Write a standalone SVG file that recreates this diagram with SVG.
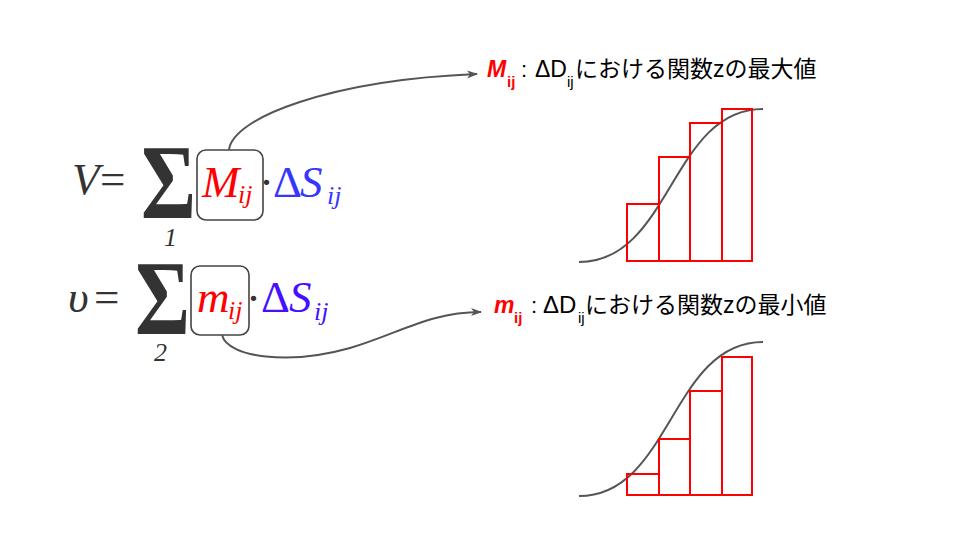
<svg xmlns="http://www.w3.org/2000/svg" width="960" height="540" viewBox="0 0 960 540">
<defs>
<marker id="arr" markerWidth="12" markerHeight="10" refX="10" refY="4" orient="auto" markerUnits="userSpaceOnUse">
<path d="M0,0 L11,4 L0,8 L3,4 z" fill="#555"/>
</marker>
<style>
.f{font-family:"Liberation Serif","Times New Roman",serif;}
.it{font-style:italic;}
.big{font-size:45px;}
.sub{font-size:26px;}
.sig{font-size:106px;font-weight:bold;}
.blk{fill:#333;}
.red{fill:#ff0000;}
.blu{fill:#3636ff;}
.blu2{fill:#4610ff;}
.box{fill:none;stroke:#444;stroke-width:1.6;}
.lab{font-family:"Liberation Sans",Arial,"Noto Sans CJK JP",sans-serif;fill:#000;}
.rl{fill:#ff0000;font-weight:bold;}
.bar{fill:none;stroke:#ff0000;stroke-width:2;}
.crv{fill:none;stroke:#555;stroke-width:2;}
.con{fill:none;stroke:#555;stroke-width:2;}
</style>
</defs>
<rect width="960" height="540" fill="#fff"/>

<g id="formula-upper">
<text class="f it big blk" x="72" y="194">V</text>
<text class="f big blk" x="100" y="194">=</text>
<text class="f sig blk" x="141" y="218" textLength="55" lengthAdjust="spacingAndGlyphs">Σ</text>
<text class="f it sub blk" x="164" y="246">1</text>
<rect class="box" x="197" y="150" width="66" height="70" rx="9"/>
<text class="f it big red" x="202" y="197">M</text>
<text class="f it sub red" x="238" y="203">ij</text>
<text class="f big blk" x="259" y="197">·</text>
<text class="f big blu" x="273" y="197">Δ</text>
<text class="f it big blu" x="300" y="197">S</text>
<text class="f it sub blu" x="327" y="204">ij</text>
</g>

<g id="formula-lower">
<text class="f it big blk" x="68" y="312">υ</text>
<text class="f big blk" x="94" y="312">=</text>
<text class="f sig blk" x="135" y="334" textLength="55" lengthAdjust="spacingAndGlyphs">Σ</text>
<text class="f it sub blk" x="154" y="361">2</text>
<rect class="box" x="191" y="266" width="58" height="69" rx="9"/>
<text class="f it big red" x="197" y="312">m</text>
<text class="f it sub red" x="228" y="319">ij</text>
<text class="f big blk" x="246" y="313">·</text>
<text class="f big blu2" x="261" y="312">Δ</text>
<text class="f it big blu2" x="289" y="312">S</text>
<text class="f it sub blu2" x="314" y="320">ij</text>
</g>

<g id="label-max">
<text class="lab rl" x="487" y="77" font-size="23" font-style="italic" style="fill:#ff0000">M</text>
<text class="lab rl" x="507" y="87" font-size="15" style="fill:#ff0000">ij</text>
<text class="lab" x="521" y="77" font-size="22">:</text>
<text class="lab" x="535" y="77" font-size="23">ΔD</text>
<text class="lab" x="567" y="87" font-size="15">ij</text>
<text class="lab" x="575" y="77" font-size="23">における関数zの最大値</text>
</g>

<g id="label-min">
<text class="lab rl" x="494" y="313" font-size="23" font-style="italic" style="fill:#ff0000">m</text>
<text class="lab rl" x="514" y="323" font-size="15" style="fill:#ff0000">ij</text>
<text class="lab" x="531" y="313" font-size="22">:</text>
<text class="lab" x="543" y="313" font-size="24">ΔD</text>
<text class="lab" x="578" y="323" font-size="15">ij</text>
<text class="lab" x="585" y="313" font-size="23">における関数zの最小値</text>
</g>

<g id="chart-upper">
<path class="crv" d="M579,262 C671,262 671,109 763,109"/>
<rect class="bar" x="627" y="204" width="32" height="57"/>
<rect class="bar" x="659" y="157" width="31" height="104"/>
<rect class="bar" x="690" y="123" width="32" height="138"/>
<rect class="bar" x="722" y="109" width="30" height="152"/>
</g>

<g id="chart-lower">
<path class="crv" d="M579,496 C671,496 671,342 763,342"/>
<rect class="bar" x="627" y="474" width="32" height="21"/>
<rect class="bar" x="659" y="439" width="31" height="56"/>
<rect class="bar" x="690" y="391" width="32" height="104"/>
<rect class="bar" x="722" y="357" width="30" height="138"/>
</g>

<g id="connectors">
<path class="con" d="M229,150 C232,118 330,80 477,74" marker-end="url(#arr)"/>
<path class="con" d="M222,335 C228,358 290,365 350,348 C400,333 430,312 481,312" marker-end="url(#arr)"/>
</g>
</svg>
